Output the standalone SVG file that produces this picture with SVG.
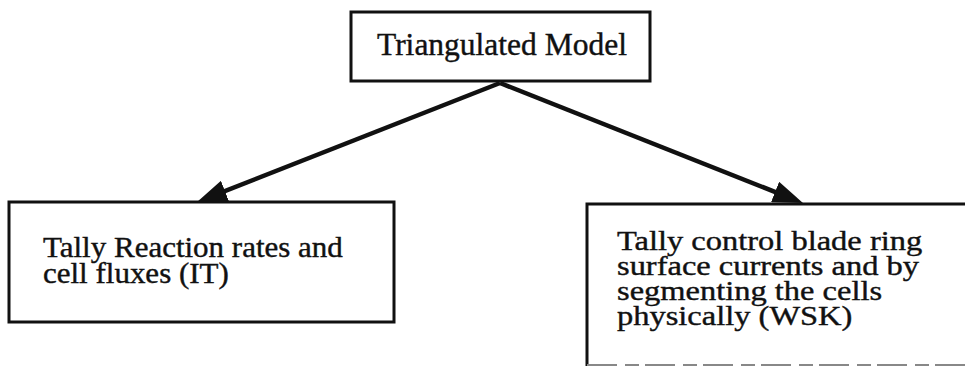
<svg xmlns="http://www.w3.org/2000/svg" width="965" height="369" viewBox="0 0 965 369">
  <style>
    .box { fill: #ffffff; stroke: #111111; stroke-width: 3; }
    .edge { fill: none; stroke: #111111; stroke-width: 3; }
    .faint { fill: none; stroke: #888888; stroke-width: 2; stroke-dasharray: 30 8 14 6; }
    .lbl { font-family: "Liberation Serif", "Times New Roman", serif; font-size: 29px; fill: #111111; stroke: #111111; stroke-width: 0.4; }
    .lbl-top { font-size: 31.5px; }
    .lbl-r { font-size: 28px; }
    .conn { stroke: #111111; stroke-width: 4.5; fill: none; }
  </style>
  <defs>
    <marker id="arrow" viewBox="0 0 30 22" refX="18" refY="11" markerWidth="30" markerHeight="22" markerUnits="userSpaceOnUse" orient="auto">
      <path d="M0,0 L30,11 L0,22 z" fill="#111111"/>
    </marker>
  </defs>
  <rect width="965" height="369" fill="#ffffff"/>
  <g id="node-triangulated">
    <rect class="box" x="351" y="12" width="299" height="69"/>
    <text class="lbl lbl-top" x="377" y="55">Triangulated Model</text>
  </g>
  <g id="node-it">
    <rect class="box" x="9" y="202" width="385" height="120"/>
    <g transform="translate(43,0) scale(1.069,1)">
      <text class="lbl" x="0" y="257">Tally Reaction rates and</text>
      <text class="lbl" x="0" y="283">cell fluxes (IT)</text>
    </g>
  </g>
  <g id="node-wsk">
    <rect fill="#ffffff" x="587" y="204" width="380" height="162"/>
    <path class="edge" d="M587,366 V204 H967"/>
    <line class="faint" x1="587" y1="365" x2="965" y2="365"/>
    <g transform="translate(617,0) scale(1.16,1)">
      <text class="lbl lbl-r" x="0" y="250">Tally control blade ring</text>
      <text class="lbl lbl-r" x="0" y="275">surface currents and by</text>
      <text class="lbl lbl-r" x="0" y="300">segmenting the cells</text>
      <text class="lbl lbl-r" x="0" y="325">physically (WSK)</text>
    </g>
  </g>
  <g id="connectors">
    <line class="conn" x1="500" y1="83" x2="208.2" y2="197.6" marker-end="url(#arrow)"/>
    <line class="conn" x1="500" y1="83" x2="791.8" y2="198.6" marker-end="url(#arrow)"/>
  </g>
</svg>
